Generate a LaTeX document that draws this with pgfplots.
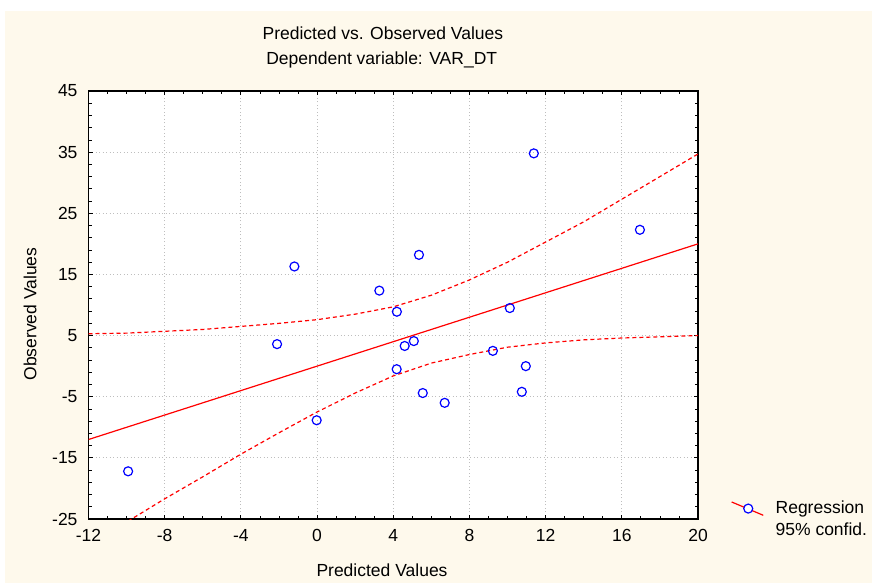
\documentclass[border=0pt]{standalone}
\usepackage{pgfplots}
\pgfplotsset{compat=1.18}
\usepackage{fontspec}
\setmainfont{Liberation Sans}
\definecolor{bgcream}{RGB}{254,249,236}
\definecolor{gridgray}{RGB}{190,190,190}
\begin{document}
\fontsize{17.5bp}{21bp}\selectfont
\begin{tikzpicture}
\fill[white] (-88.5bp,-66bp) rectangle (783.5bp,519bp);
\fill[bgcream] (-83.5bp,-64bp) rectangle (783.5bp,508bp);
\begin{axis}[
  scale only axis,
  width=609.5bp, height=428bp,
  at={(0,0)}, anchor=south west,
  xmin=-12, xmax=20, ymin=-25, ymax=45,
  xtick={-12,-8,...,20}, ytick={-25,-15,...,45},
  minor x tick num=3, minor y tick num=4,
  tick align=inside, tick pos=both,
  major tick length=4bp, minor tick length=3bp,
  tick style={black, line width=0.8bp},
  axis line style={black, line width=1.5bp},
  axis background/.style={fill=white},
  grid=major,
  major grid style={gridgray, line width=0.8bp, dash pattern=on 1bp off 2.5bp},
  ticklabel style={font=\fontsize{17.5bp}{21bp}\selectfont},
  /pgf/number format/assume math mode=true,
  yticklabel style={xshift=-5bp},
  xticklabel style={yshift=-4.5bp},
  clip=true,
  legend style={at={(1.049,0.052)}, anchor=north west, draw=none, fill=none,
    font=\fontsize{17.5bp}{21bp}\selectfont, row sep=3bp,
    cells={anchor=west}},
  legend cell align=left,
]
% regression line
\addplot[red, line width=1.2bp, forget plot] coordinates {(-12,-12) (20,20)};
% upper 95% confidence band
\addplot[red, line width=1.2bp, dash pattern=on 4bp off 3bp, forget plot] coordinates {
(-12,5.3) (-10,5.4) (-8,5.7) (-6,6.0) (-4,6.5) (-2,7.0) (0,7.6) (2,8.5) (4,9.7)
(6,11.6) (8,14.1) (10,17.0) (12,20.3) (14,23.6) (16,27.3) (18,31.0) (20,34.7)};
% lower 95% confidence band
\addplot[red, line width=1.2bp, dash pattern=on 4bp off 3bp, forget plot] coordinates {
(-10.5,-26.8) (-10,-25.5) (-8,-21.7) (-6,-18.1) (-4,-14.4) (-2,-10.9) (0,-7.5) (2,-4.4) (4,-1.6)
(6,0.5) (8,1.9) (10,3.1) (12,3.8) (14,4.3) (16,4.6) (18,4.8) (20,5.0)};
% observations
\addplot[only marks, mark=o, mark size=4.5bp, mark options={blue, line width=1.2bp}, forget plot] coordinates {
(-9.92,-17.2) (-2.1,3.6) (-1.19,16.3) (-0.02,-8.85) (3.27,12.35) (4.19,8.9) (4.18,-0.5)
(4.6,3.3) (5.08,4.1) (5.35,18.2) (5.55,-4.4) (6.7,-6.0) (9.23,2.5) (10.12,9.5)
(10.75,-4.2) (10.96,0.0) (11.38,34.8) (16.95,22.3)};
\addlegendimage{legend image code/.code={
  \path[draw=none, fill=none] (0bp,0bp) rectangle (42bp,1bp);
  \draw[red, line width=1.2bp] (0bp,6.6bp) -- (31.6bp,-6.7bp);
  \draw[blue, fill=white, line width=1.2bp] (16.6bp,0bp) circle (4.5bp);}}
\addlegendentry{Regression}
\addlegendimage{empty legend}
\addlegendentry{95\% confid.}
\end{axis}
\node at (294.4bp,486bp) {Predicted vs. Observed Values};
\node at (293.2bp,459bp) {Dependent variable: VAR\_DT};
\node at (293.5bp,-50.9bp) {Predicted Values};
\node[rotate=90] at (-58.5bp,205bp) {Observed Values};
\pgfresetboundingbox
\useasboundingbox (-88.5bp,-66bp) rectangle (783.5bp,519bp);
\end{tikzpicture}
\end{document}
